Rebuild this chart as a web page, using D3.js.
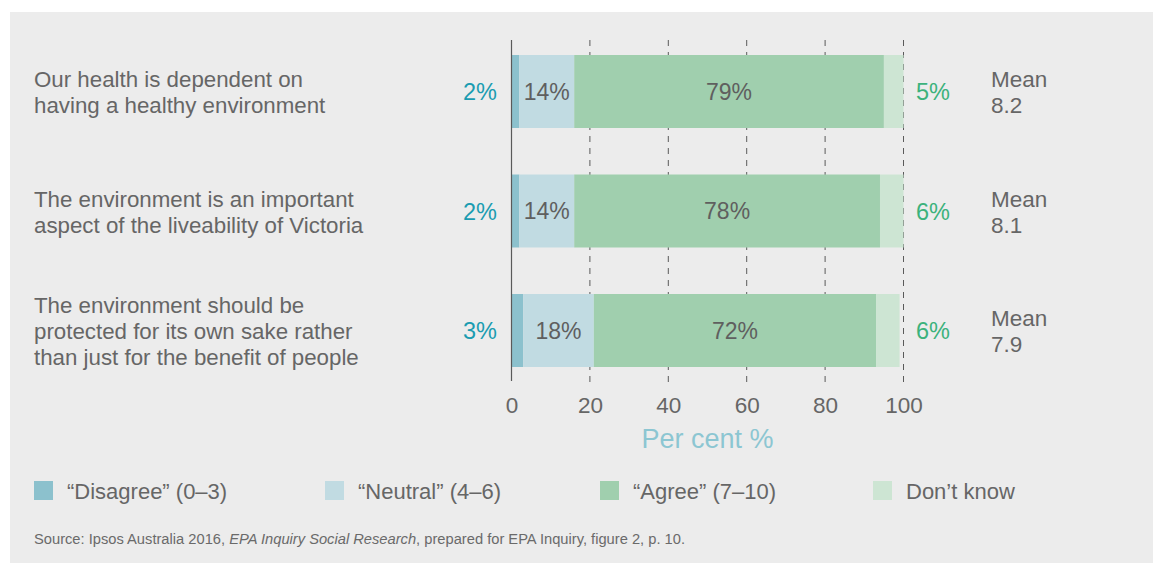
<!DOCTYPE html>
<html>
<head>
<meta charset="utf-8">
<script src="https://cdn.jsdelivr.net/npm/d3@7"></script>
<style>
  body { margin: 0; background: #fff; }
  text { font-family: "Liberation Sans", Arial, sans-serif; }
</style>
</head>
<body>
<div id="chart"></div>
<script>
var width = 1153;
var height = 563;

// data
var questions = [
  ["Our health is dependent on", "having a healthy environment"],
  ["The environment is an important", "aspect of the liveability of Victoria"],
  ["The environment should be", "protected for its own sake rather", "than just for the benefit of people"]
];
var disagree = [2, 2, 3];
var neutral = [14, 14, 18];
var agree = [79, 78, 72];
var dontKnow = [5, 6, 6];
var means = ["8.2", "8.1", "7.9"];
var seriesNames = ["\u201cDisagree\u201d (0\u20133)", "\u201cNeutral\u201d (4\u20136)", "\u201cAgree\u201d (7\u201310)", "Don\u2019t know"];
var xTicks = [0, 20, 40, 60, 80, 100];

const COLORS = ["#8cc1cd", "#c1dbe2", "#a0cfae", "#cde5d3"];
const TEXT_GREY = "#666666";

var svg = d3.select("#chart")
  .append("svg")
  .attr("width", width)
  .attr("height", height);

// grey panel
svg.append("rect")
  .attr("x", 10).attr("y", 12)
  .attr("width", 1143).attr("height", 551)
  .attr("fill", "#ececec");

var x = d3.scaleLinear().domain([0, 100]).range([511.5, 903.5]);
var y = d3.scalePoint().domain(d3.range(questions.length)).range([91.5, 330.5]);
var barH = 73;

// dashed grid lines
svg.append("g")
  .selectAll("line")
  .data(xTicks.filter(function(d) { return d > 0; }))
  .enter()
  .append("line")
  .attr("x1", function(d) { return x(d); })
  .attr("x2", function(d) { return x(d); })
  .attr("y1", 40)
  .attr("y2", 386)
  .attr("stroke", "#5a5a5a")
  .attr("stroke-width", 1)
  .attr("stroke-dasharray", "6,6");

// stacked bars
var rows = questions.map(function(q, i) {
  return { i: i, vals: [disagree[i], neutral[i], agree[i], dontKnow[i]] };
});

rows.forEach(function(r) {
  var acc = 0;
  var cy = y(r.i);
  var g = svg.append("g");
  r.vals.forEach(function(v, k) {
    g.append("rect")
      .attr("x", x(acc))
      .attr("y", cy - barH / 2)
      .attr("width", x(acc + v) - x(acc))
      .attr("height", barH)
      .attr("fill", COLORS[k]);
    if (k == 1 || k == 2) {
      g.append("text")
        .attr("x", (x(acc) + x(acc + v)) / 2)
        .attr("y", cy + 8)
        .attr("text-anchor", "middle")
        .attr("font-size", 23)
        .attr("fill", "#5f5f5f")
        .text(v + "%");
    }
    acc += v;
  });

  // outside labels
  svg.append("text")
    .attr("x", 497)
    .attr("y", cy + 8.5)
    .attr("text-anchor", "end")
    .attr("font-size", 23.5)
    .attr("fill", "#1b9cb1")
    .text(r.vals[0] + "%");
  svg.append("text")
    .attr("x", 916)
    .attr("y", cy + 8.5)
    .attr("font-size", 23.5)
    .attr("fill", "#3cb27c")
    .text(r.vals[3] + "%");

  // mean
  svg.append("text")
    .attr("x", 991)
    .attr("y", cy - 4.5)
    .attr("font-size", 22.5)
    .attr("fill", TEXT_GREY)
    .text("Mean");
  svg.append("text")
    .attr("x", 991)
    .attr("y", cy + 21.5)
    .attr("font-size", 22.5)
    .attr("fill", TEXT_GREY)
    .text(means[r.i]);

  // question label
  var lines = questions[r.i];
  lines.forEach(function(line, j) {
    svg.append("text")
      .attr("x", 34)
      .attr("y", cy + 8.5 + (j - (lines.length - 1) / 2) * 26)
      .attr("font-size", 22.3)
      .attr("fill", TEXT_GREY)
      .text(line);
  });
});

// zero axis line
svg.append("line")
  .attr("x1", x(0)).attr("x2", x(0))
  .attr("y1", 40).attr("y2", 381)
  .attr("stroke", "#5a5a5a")
  .attr("stroke-width", 1.2);

// x axis labels
var xAxis = d3.axisBottom(x).tickValues(xTicks).tickSize(0).tickPadding(0);
var ax = svg.append("g")
  .attr("transform", "translate(0,397)")
  .call(xAxis);
ax.select(".domain").remove();
ax.selectAll("text")
  .attr("font-family", "Liberation Sans, Arial, sans-serif")
  .attr("font-size", 22.5)
  .attr("fill", TEXT_GREY);

svg.append("text")
  .attr("x", x(50))
  .attr("y", 448)
  .attr("text-anchor", "middle")
  .attr("font-size", 27)
  .attr("fill", "#8cc6d2")
  .text("Per cent %");

// legend
var legendX = [34, 325, 600, 873];
var legend = svg.append("g")
  .selectAll("g")
  .data(seriesNames)
  .enter()
  .append("g")
  .attr("transform", function(d, i) { return "translate(" + legendX[i] + ",481)"; });
legend.append("rect")
  .attr("width", 19).attr("height", 19)
  .attr("fill", function(d, i) { return COLORS[i]; });
legend.append("text")
  .attr("x", 33)
  .attr("y", 18)
  .attr("font-size", 22)
  .attr("fill", TEXT_GREY)
  .text(function(d) { return d; });

// source
var src = svg.append("text")
  .attr("x", 34)
  .attr("y", 544)
  .attr("font-size", 14.7)
  .attr("fill", "#6a6a6a");
src.append("tspan").text("Source: Ipsos Australia 2016, ");
src.append("tspan").attr("font-style", "italic").text("EPA Inquiry Social Research");
src.append("tspan").text(", prepared for EPA Inquiry, figure 2, p. 10.");
</script>
</body>
</html>
